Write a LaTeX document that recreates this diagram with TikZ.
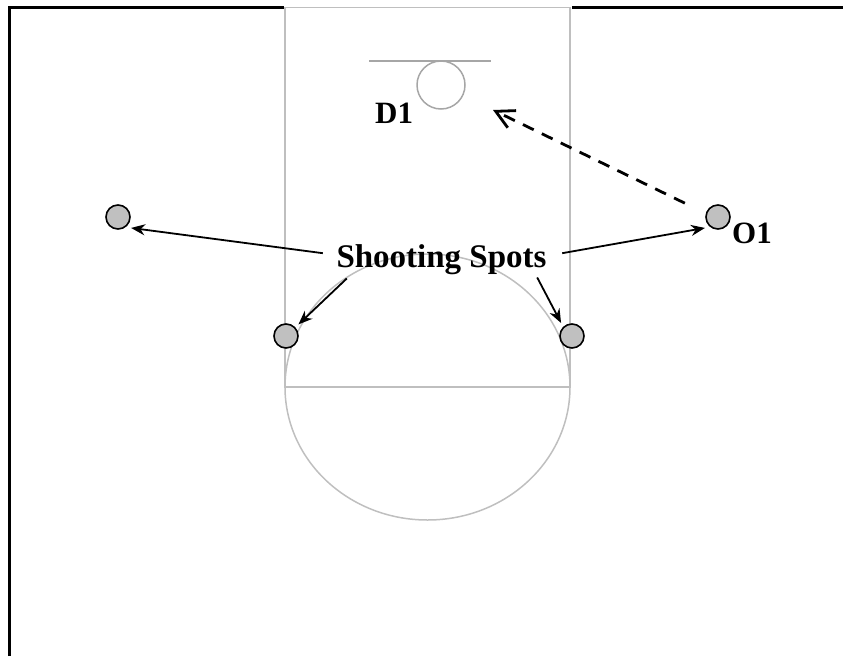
\documentclass[tikz,border=0pt]{standalone}
\usepackage{fontspec}
\setmainfont{Liberation Serif}
\usepackage{xcolor}
\usepackage{tikz}
\usetikzlibrary{arrows.meta}

\definecolor{courtgray}{HTML}{BFBFBF}
\definecolor{rimgray}{HTML}{A6A6A6}
\definecolor{playergray}{HTML}{C0C0C0}

\begin{document}
\begin{tikzpicture}[x=1pt,y=-1pt,
		court/.style={draw=courtgray,line width=1.5pt},
		rim/.style={draw=rimgray,line width=1.5pt},
		player/.style={circle,draw=black,fill=playergray,line width=1.6pt,minimum size=24pt,inner sep=0pt,outer sep=5pt},
		tag/.style={font=\bfseries\fontsize{31}{36}\selectfont,inner sep=0pt},
		pointer/.style={-{Stealth[length=14pt,width=11pt,inset=4.5pt]},line width=1.8pt},
		cut/.style={-{Straight Barb[length=18pt,width=19pt]},line width=2.8pt,dash pattern=on 12pt off 9pt}]
		\useasboundingbox (0,0) rectangle (843,656);
		
		% court
		\draw[line width=2.8pt] (9.5,656) -- (9.5,7.8) -- (843,7.8);
		\fill[white] (284,5) rectangle (571.5,10);
		\draw[court] (285,7.5) rectangle (570,387);
		\draw[court] (427.5,387) ellipse [x radius=142.5,y radius=133];
		\draw[rim] (369,61) -- (491,61);
		\draw[rim] (441,85) circle [radius=24];
		
		% players
		\node[player] (p1) at (118,217) {};
		\node[player] (p2) at (286,336) {};
		\node[player] (p3) at (572,336) {};
		\node[player] (o1) at (718,217) {};
		\coordinate (drive) at (493,110);
		
		\node[tag,anchor=base west] (d1) at (375,123) {D1};
		\node[tag,anchor=base west] (o1tag) at (732,243) {O1};
		\node[tag,font=\bfseries\fontsize{33}{40}\selectfont,anchor=base] (spots) at (441.5,267) {Shooting Spots};
		
		\path[pointer]
		([xshift=-13.5pt,yshift=6pt]spots.west) edge (p1.-40)
		([xshift=10.5pt,yshift=-4pt]spots.south west) edge (p2.43)
		([xshift=-9.5pt,yshift=-3pt]spots.south east) edge (p3.130)
		([xshift=15.5pt,yshift=6pt]spots.east) edge (o1.220);
		
		\draw[cut,shorten <=19pt] (o1.161) -- (drive);
	\end{tikzpicture}
\end{document}
